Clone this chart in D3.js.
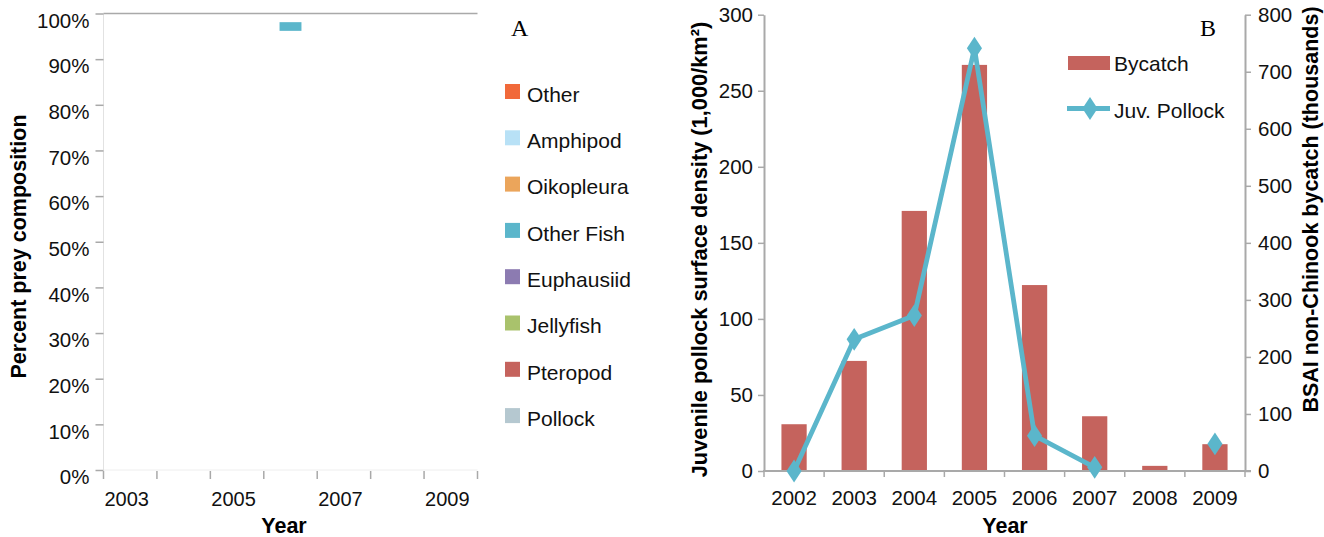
<!DOCTYPE html>
<html>
<head>
<meta charset="utf-8">
<script src="https://cdn.jsdelivr.net/npm/d3@7"></script>
<style>
  html, body { margin: 0; padding: 0; background: #fff; }
  svg { display: block; font-family: "Liberation Sans", Arial, Helvetica, sans-serif; }
  .tick text { fill: #111; }
</style>
</head>
<body>
<svg id="chart" width="1324" height="537"></svg>
<script>
// ---- Panel A: diet composition ----
const dietYears = ["2003", "2004", "2005", "2006", "2007", "2008", "2009"];
const dietYearLabels = ["2003", "2005", "2007", "2009"];
const preyTypes = ["Other", "Amphipod", "Oikopleura", "Other Fish", "Euphausiid", "Jellyfish", "Pteropod", "Pollock"];
const preyColors = ["#F1693A", "#B8E1F6", "#EBA55B", "#5BB6CB", "#8C7BB1", "#A9C26C", "#C5635D", "#B5C8D0"];
// visible stacked segments (fraction of diet)
const dietSegYear = ["2006"];
const dietSegPrey = ["Other Fish"];
const dietSegLow = [0.962];
const dietSegHigh = [0.981];

// ---- Panel B: bycatch and juvenile pollock density ----
const years = ["2002", "2003", "2004", "2005", "2006", "2007", "2008", "2009"];
const bycatch = [82, 193, 456, 712, 326, 96, 9, 47];           // thousands
const juvPollock = [0, 86.6, 102.2, 278, 23.2, 2.4, null, 17.8]; // 1,000/km²

const svg = d3.select("#chart");
const axisGray = "#A9A9A9";
const fs = 20;      // tick labels
const fsLeg = 21;   // legend entries
const fsTitle = 21.5; // axis titles

// ===================== Panel A =====================
const A = { left: 103.5, right: 477.5, top: 13.5, bottom: 470 };
const xA = d3.scaleBand().domain(dietYears).range([A.left, A.right]).paddingInner(0.59).paddingOuter(0.295);
const xAgrid = d3.scaleBand().domain(dietYears).range([A.left, A.right]).padding(0);
const yA = d3.scaleLinear().domain([0, 1]).range([A.bottom, A.top]);

const gA = svg.append("g");

// frame: faint left/bottom lines, darker top edge
gA.append("line").attr("x1", A.left).attr("x2", A.left).attr("y1", A.top).attr("y2", A.bottom)
  .attr("stroke", "#E2E2E2").attr("stroke-width", 1);
gA.append("line").attr("x1", A.left).attr("x2", A.right).attr("y1", A.bottom).attr("y2", A.bottom)
  .attr("stroke", "#EEEEEE").attr("stroke-width", 1);
gA.append("line").attr("x1", A.left).attr("x2", A.right).attr("y1", A.top).attr("y2", A.top)
  .attr("stroke", axisGray).attr("stroke-width", 1.3);

// y axis
const yAxisA = gA.append("g").attr("transform", `translate(${A.left},0)`)
  .call(d3.axisLeft(yA).ticks(10).tickFormat(d3.format(".0%")).tickSize(8).tickPadding(6));
yAxisA.select(".domain").remove();
yAxisA.selectAll(".tick line").attr("stroke", axisGray).attr("stroke-width", 1.5);
yAxisA.selectAll(".tick text").attr("font-size", fs + 0.5).attr("dy", "0.67em");

// x axis: ticks on band edges, labels every other year
const edgesA = dietYears.map(d => xAgrid(d)).concat([xAgrid.range()[1]]);
gA.selectAll(".xtickA").data(edgesA).enter().append("line")
  .attr("x1", d => d).attr("x2", d => d).attr("y1", A.bottom + 1).attr("y2", A.bottom + 9)
  .attr("stroke", axisGray).attr("stroke-width", 1.5);
gA.selectAll(".xlabA").data(dietYearLabels).enter().append("text")
  .attr("x", d => xAgrid(d) + xAgrid.bandwidth() / 2 - 3.5)
  .attr("y", 505.5).attr("text-anchor", "middle").attr("font-size", fs).attr("fill", "#111")
  .text(d => d);

// stacked diet segments
gA.selectAll(".segA").data(dietSegYear.map((y, i) => ({ year: y, prey: dietSegPrey[i], lo: dietSegLow[i], hi: dietSegHigh[i] })))
  .enter().append("rect")
  .attr("x", d => xA(d.year)).attr("width", xA.bandwidth())
  .attr("y", d => yA(d.hi)).attr("height", d => yA(d.lo) - yA(d.hi))
  .attr("fill", d => preyColors[preyTypes.indexOf(d.prey)]);

// titles
gA.append("text").attr("transform", "translate(19,246.5) rotate(-90)")
  .attr("text-anchor", "middle").attr("dominant-baseline", "central")
  .attr("font-size", fsTitle).attr("font-weight", "bold").attr("fill", "#000")
  .text("Percent prey composition");
gA.append("text").attr("x", 284).attr("y", 533).attr("text-anchor", "middle")
  .attr("font-size", fsTitle).attr("font-weight", "bold").attr("fill", "#000").text("Year");
gA.append("text").attr("x", 511).attr("y", 36).attr("font-family", "'Liberation Serif', 'Times New Roman', serif")
  .attr("font-size", 24).attr("fill", "#000").text("A");

// legend
const legA = gA.selectAll(".legA").data(preyTypes).enter().append("g")
  .attr("transform", (d, i) => `translate(505,${84 + i * 46.3})`);
legA.append("rect").attr("width", 15).attr("height", 15).attr("fill", (d, i) => preyColors[i]);
legA.append("text").attr("x", 22).attr("y", 17.8).attr("font-size", fsLeg).attr("fill", "#111").text(d => d);

// ===================== Panel B =====================
const B = { left: 764, right: 1245, top: 14.7, bottom: 471 };
const xB = d3.scaleBand().domain(years).range([B.left, B.right]).paddingInner(0.58).paddingOuter(0.29);
const xBgrid = d3.scaleBand().domain(years).range([B.left, B.right]).padding(0);
const yLeft = d3.scaleLinear().domain([0, 300]).range([B.bottom, B.top]);
const yRight = d3.scaleLinear().domain([0, 800]).range([B.bottom, B.top]);
const cyan = "#5BB6CB";
const brick = "#C5635D";

const gB = svg.append("g");

// bars: bycatch on right axis
gB.selectAll(".barB").data(years.map((y, i) => ({ year: y, v: bycatch[i] }))).enter().append("rect")
  .attr("x", d => xB(d.year)).attr("width", xB.bandwidth())
  .attr("y", d => yRight(d.v)).attr("height", d => yRight(0) - yRight(d.v))
  .attr("fill", brick);

// axes
const yAxisL = gB.append("g").attr("transform", `translate(${B.left},0)`)
  .call(d3.axisLeft(yLeft).tickValues([0, 50, 100, 150, 200, 250, 300]).tickSize(6).tickPadding(5).tickSizeOuter(0));
const yAxisR = gB.append("g").attr("transform", `translate(${B.right},0)`)
  .call(d3.axisRight(yRight).tickValues([0, 100, 200, 300, 400, 500, 600, 700, 800]).tickSize(6).tickPadding(7).tickSizeOuter(0));
[yAxisL, yAxisR].forEach(g => {
  g.select(".domain").attr("stroke", axisGray).attr("stroke-width", 2);
  g.selectAll(".tick line").attr("stroke", axisGray).attr("stroke-width", 1.5);
  g.selectAll(".tick text").attr("font-size", fs + 0.5);
});

gB.append("line").attr("x1", B.left - 1).attr("x2", B.right + 6).attr("y1", B.bottom).attr("y2", B.bottom)
  .attr("stroke", axisGray).attr("stroke-width", 2);
const edgesB = years.map(d => xBgrid(d)).concat([xBgrid.range()[1]]);
gB.selectAll(".xtickB").data(edgesB).enter().append("line")
  .attr("x1", d => d).attr("x2", d => d).attr("y1", B.bottom).attr("y2", B.bottom + 6)
  .attr("stroke", axisGray).attr("stroke-width", 1.5);
gB.selectAll(".xlabB").data(years).enter().append("text")
  .attr("x", d => xBgrid(d) + xBgrid.bandwidth() / 2).attr("y", 505)
  .attr("text-anchor", "middle").attr("font-size", fs + 0.5).attr("fill", "#111").text(d => d);

// line: juvenile pollock on left axis
const ptsB = years.map((y, i) => ({ year: y, v: juvPollock[i] }));
const lineB = d3.line().defined(d => d.v != null)
  .x(d => xB(d.year) + xB.bandwidth() / 2).y(d => yLeft(d.v));
gB.append("path").datum(ptsB).attr("d", lineB)
  .attr("fill", "none").attr("stroke", cyan).attr("stroke-width", 4.8).attr("stroke-linejoin", "round");
const diamond = d3.symbol().type(d3.symbolDiamond).size(150);
gB.selectAll(".mkB").data(ptsB.filter(d => d.v != null)).enter().append("path")
  .attr("d", diamond)
  .attr("transform", d => `translate(${xB(d.year) + xB.bandwidth() / 2},${yLeft(d.v)}) scale(1.15,1)`)
  .attr("fill", cyan);

// titles
gB.append("text").attr("transform", "translate(699,249.5) rotate(-90)")
  .attr("text-anchor", "middle").attr("dominant-baseline", "central")
  .attr("font-size", fsTitle + 0.3).attr("font-weight", "bold").attr("fill", "#000")
  .text("Juvenile pollock surface density (1,000/km²)");
gB.append("text").attr("transform", "translate(1311,209.5) rotate(-90)")
  .attr("text-anchor", "middle").attr("dominant-baseline", "central")
  .attr("font-size", fsTitle).attr("font-weight", "bold").attr("fill", "#000")
  .text("BSAI non-Chinook bycatch (thousands)");
gB.append("text").attr("x", 1005).attr("y", 533).attr("text-anchor", "middle")
  .attr("font-size", fsTitle).attr("font-weight", "bold").attr("fill", "#000").text("Year");
gB.append("text").attr("x", 1200).attr("y", 36).attr("font-family", "'Liberation Serif', 'Times New Roman', serif")
  .attr("font-size", 24).attr("fill", "#000").text("B");

// legend
const legB = gB.append("g");
legB.append("rect").attr("x", 1068).attr("y", 56).attr("width", 42).attr("height", 14).attr("fill", brick);
legB.append("text").attr("x", 1114).attr("y", 70.5).attr("font-size", fsLeg).attr("fill", "#111").text("Bycatch");
legB.append("line").attr("x1", 1067).attr("x2", 1110).attr("y1", 108.5).attr("y2", 108.5)
  .attr("stroke", cyan).attr("stroke-width", 4.8);
legB.append("path").attr("d", diamond).attr("transform", "translate(1090,108.5) scale(1.15,1)").attr("fill", cyan);
legB.append("text").attr("x", 1114).attr("y", 118).attr("font-size", fsLeg).attr("fill", "#111").text("Juv. Pollock");
</script>
</body>
</html>
